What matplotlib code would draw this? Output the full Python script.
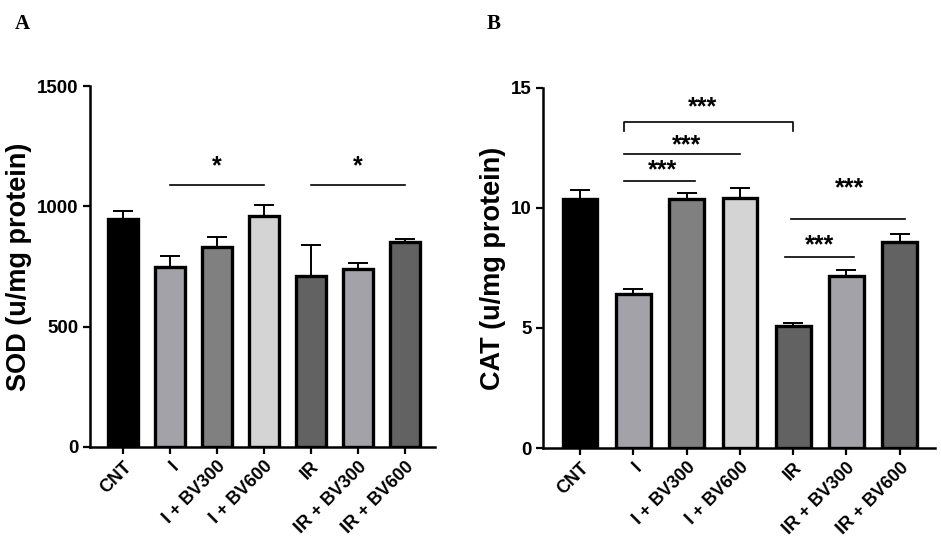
import numpy as np
import matplotlib.pyplot as plt

plt.rcParams['font.family'] = ['Liberation Sans', 'DejaVu Sans']

groups = ["CNT", "I", "I + BV300", "I + BV600", "IR", "IR + BV300", "IR + BV600"]
colors = ["#000000", "#a2a2a8", "#808080", "#d4d4d4", "#626262", "#a2a2a8", "#626262"]

sod = [947, 748, 831, 960, 710, 740, 852]
sod_err = [33, 46, 41, 45, 129, 24, 12]

cat = [10.37, 6.42, 10.37, 10.43, 5.08, 7.17, 8.58]
cat_err = [0.38, 0.2, 0.25, 0.4, 0.12, 0.25, 0.34]

fig = plt.figure(figsize=(9.41, 5.39), dpi=100)
ax1 = fig.add_axes([0.0956, 0.1707, 0.3666, 0.6697])
ax2 = fig.add_axes([0.577, 0.1688, 0.4166, 0.668])

def panel(ax, vals, errs, ylim, yticks, ylabel, xlim):
    x = np.arange(len(groups))
    ax.errorbar(x, vals, yerr=[np.zeros(len(errs)), errs], fmt='none',
                ecolor='black', elinewidth=1.4, capsize=7, capthick=1.4, zorder=1)
    ax.bar(x, vals, width=0.65, color=colors, edgecolor='black', linewidth=2.4, zorder=2)
    ax.set_xlim(*xlim)
    ax.set_ylim(*ylim)
    ax.set_yticks(yticks)
    ax.set_xticks(x)
    ax.set_xticklabels(groups, rotation=45, ha='right', rotation_mode='anchor',
                       fontsize=13, fontweight='bold')
    for t in ax.get_yticklabels():
        t.set_fontsize(13.5)
        t.set_fontweight('bold')
    ax.set_ylabel(ylabel, fontsize=19.5, fontweight='bold', labelpad=4)
    for s in ['top', 'right']:
        ax.spines[s].set_visible(False)
    for s in ['left', 'bottom']:
        ax.spines[s].set_linewidth(1.8)
    ax.tick_params(width=1.6, length=5, pad=3)

panel(ax1, sod, sod_err, (0, 1500), [0, 500, 1000, 1500], "SOD (u/mg protein)", (-0.70, 6.64))
panel(ax2, cat, cat_err, (0, 15), [0, 5, 10, 15], "CAT (u/mg protein)", (-0.694, 6.66))

# significance lines, SOD
for a, b in [(1, 3), (4, 6)]:
    ax1.plot([a, b], [1089, 1089], color='black', lw=1.2, clip_on=False)
    ax1.text((a + b) / 2, 1165, "*", ha='center', va='center', fontsize=18, fontweight='bold')

# significance lines, CAT
ax2.plot([0.82, 0.82, 4.0, 4.0], [13.2, 13.6, 13.6, 13.2], color='black', lw=1.2, clip_on=False)
ax2.text(2.3, 14.2, "***", ha='center', va='center', fontsize=18, fontweight='bold')
lines = [(0.82, 3.0, 12.25, 2.0, 12.6),
         (0.82, 2.15, 11.12, 1.55, 11.55),
         (3.95, 6.1, 9.54, 5.05, 10.8),
         (3.85, 5.15, 7.96, 4.5, 8.45)]
for a, b, y, tx, ty in lines:
    ax2.plot([a, b], [y, y], color='black', lw=1.2, clip_on=False)
    ax2.text(tx, ty, "***", ha='center', va='center', fontsize=18, fontweight='bold')

fig.text(0.016, 0.955, "A", fontsize=15, fontweight='bold', family='Liberation Serif', va='center')
fig.text(0.517, 0.955, "B", fontsize=15, fontweight='bold', family='Liberation Serif', va='center')

fig.savefig("out.png", dpi=100)
